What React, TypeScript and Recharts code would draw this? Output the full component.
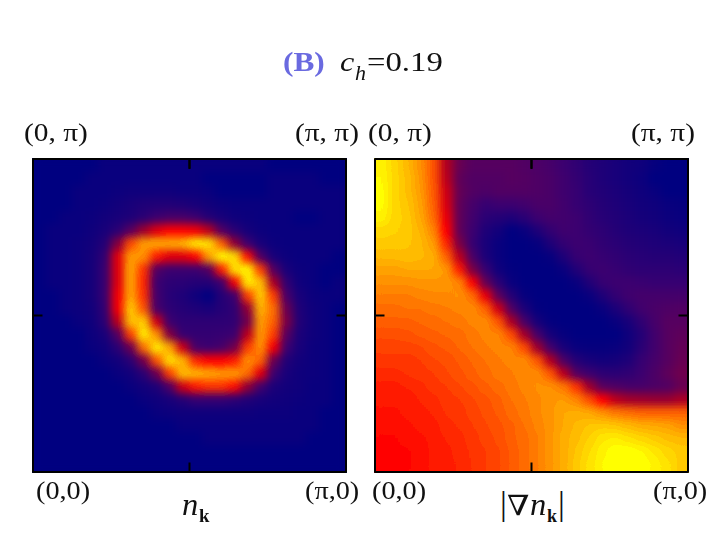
import React from "react";
import { ScatterChart, Scatter, XAxis, YAxis, ReferenceLine } from "recharts";

// Heat levels: 24 rows (top to bottom), 24 columns (left to right), 0-100.
const densityRows: number[][] = [
  [0,0,0,0,0,3,3,3,3,3,3,3,3,3,3,3,3,3,0,0,0,0,0,0],
  [0,0,0,0,3,3,3,3,3,3,3,3,3,0,0,0,0,0,3,3,3,3,0,0],
  [0,0,0,3,3,3,4,5,5,5,5,4,4,3,0,0,0,0,3,3,3,3,3,3],
  [0,0,0,3,3,4,6,8,10,11,11,10,8,6,4,3,3,3,3,3,3,3,3,3],
  [0,0,3,3,4,6,8,10,14,20,24,24,20,12,8,5,4,3,3,3,0,0,3,3],
  [0,3,3,3,5,8,14,30,44,52,56,56,54,48,28,14,7,4,3,3,3,3,3,3],
  [0,3,3,4,6,12,40,68,82,84,84,86,96,94,72,42,20,8,4,3,3,3,3,3],
  [0,3,3,4,7,16,52,82,80,60,52,52,56,82,98,94,58,26,8,4,3,3,3,0],
  [0,3,3,4,7,18,52,84,64,28,20,20,20,28,60,94,98,66,28,8,4,3,0,0],
  [0,3,3,4,7,18,52,84,62,20,15,14,12,12,20,54,96,88,46,16,5,3,0,3],
  [0,0,3,4,7,18,54,84,64,22,13,10,5,0,12,20,66,90,66,24,8,4,3,3],
  [0,0,3,4,6,16,54,90,70,24,15,12,10,8,12,16,42,86,74,34,10,5,3,0],
  [0,0,0,3,5,14,48,88,90,50,20,15,15,15,15,16,36,82,72,38,11,5,3,0],
  [0,0,0,0,4,8,28,66,96,80,40,18,17,17,18,20,48,82,66,30,9,5,3,0],
  [0,0,0,0,3,5,14,34,74,96,84,50,24,20,24,36,66,80,54,20,8,4,3,0],
  [0,0,0,0,0,3,6,14,36,70,94,86,62,56,56,60,80,72,34,11,6,4,3,0],
  [0,0,0,0,0,0,3,6,14,34,66,88,86,84,82,82,74,52,20,8,5,4,3,0],
  [0,0,0,0,0,0,0,3,6,10,26,50,60,64,64,58,42,22,9,6,5,3,3,0],
  [0,0,0,0,0,0,0,0,3,5,8,12,18,18,18,15,11,8,6,5,4,3,3,0],
  [0,0,0,0,0,0,0,0,0,3,4,5,5,5,5,5,5,4,4,4,3,3,0,0],
  [0,0,0,0,0,0,0,0,0,0,0,3,3,3,3,3,3,3,3,3,3,3,0,0],
  [0,0,0,0,0,0,0,0,0,0,0,0,0,3,3,3,3,3,3,3,3,0,0,0],
  [0,0,0,0,0,0,0,0,0,0,0,0,0,0,0,0,0,0,0,0,0,0,0,0],
  [0,0,0,0,0,0,0,0,0,0,0,0,0,0,0,0,0,0,0,0,0,0,0,0],
];

const gradientRows: number[][] = [
  [97,92,87,80,70,47,34,30,30,30,30,28,26,24,20,16,12,10,8,6,5,2,0,0],
  [98,92,88,81,70,48,32,28,28,28,30,29,27,25,21,17,13,10,8,6,4,0,0,0],
  [99,92,88,82,71,50,33,28,26,28,28,28,27,25,21,18,13,11,9,7,5,3,0,0],
  [99,92,89,83,72,51,32,24,18,20,20,22,25,25,22,18,15,12,10,8,6,5,3,2],
  [97,92,90,84,74,53,32,22,14,12,10,14,20,23,22,20,16,13,11,9,7,6,4,3],
  [92,91,90,86,78,55,32,20,10,6,0,3,10,17,21,20,17,15,12,10,9,8,6,5],
  [90,90,89,87,82,62,38,18,8,3,0,0,2,10,17,20,19,16,14,12,11,10,9,8],
  [87,87,88,87,85,72,48,25,9,3,0,0,0,2,10,18,20,18,16,14,13,12,12,11],
  [83,83,84,84,84,81,60,38,18,5,1,0,0,0,3,11,18,20,18,16,15,15,15,14],
  [80,80,80,81,81,81,78,56,33,14,3,0,0,0,0,3,11,18,20,20,19,18,18,18],
  [77,77,77,78,79,79,80,74,53,31,12,2,0,0,0,0,3,10,17,21,23,23,23,23],
  [74,74,75,75,76,77,78,79,72,50,27,9,1,0,0,0,0,3,9,16,22,25,27,28],
  [72,72,72,73,74,75,76,78,79,70,46,24,7,1,0,0,0,0,3,8,16,24,30,30],
  [69,69,70,71,72,73,74,76,78,78,68,45,23,7,2,0,0,0,0,5,12,22,30,32],
  [67,67,67,68,70,71,73,75,77,78,78,68,44,22,8,3,2,2,3,6,14,22,30,33],
  [65,65,65,66,68,69,71,73,75,77,78,79,70,47,26,12,8,6,7,10,18,24,30,34],
  [63,63,64,65,66,68,70,72,74,76,77,79,79,70,48,28,20,15,14,16,20,26,32,36],
  [61,61,62,63,65,66,68,70,72,74,76,78,80,80,76,64,44,30,27,24,24,26,28,34],
  [60,60,60,62,63,65,66,68,70,72,75,77,79,81,82,78,68,55,48,45,44,43,43,46],
  [59,59,60,61,62,64,65,67,69,71,74,76,79,81,84,85,84,80,76,74,72,72,72,72],
  [58,58,59,60,61,63,64,66,68,70,72,75,78,81,84,87,89,90,89,87,85,84,83,80],
  [57,57,58,59,60,62,63,65,67,69,72,74,77,81,85,88,91,95,96,94,92,90,88,87],
  [57,57,57,58,60,61,63,64,66,68,71,74,77,81,85,89,93,97,100,100,98,95,92,90],
  [56,56,57,58,60,61,62,64,66,68,71,74,77,81,85,90,94,98,100,100,100,97,94,90],
];

const colorStops: [number, number[]][] = [
  [0, [0, 0, 128]], [10, [30, 0, 120]], [20, [60, 0, 112]], [30, [86, 0, 96]],
  [40, [128, 0, 64]], [47, [176, 0, 32]], [55, [255, 0, 0]], [78, [255, 132, 0]], [100, [255, 255, 0]],
];

const axisDomain = [0, 24];
const axisTicks = [12];

const cornerTopLeft = ["(0, π)", "(0, π)"];
const cornerTopRight = ["(π, π)", "(π, π)"];
const cornerBottomLeft = ["(0,0)", "(0,0)"];
const cornerBottomRight = ["(π,0)", "(π,0)"];

function colorOf(v: number): string {
  for (let i = 1; i < colorStops.length; i++) {
    const [b, cb] = colorStops[i];
    const [a, ca] = colorStops[i - 1];
    if (v <= b) {
      const t = (v - a) / (b - a);
      const c = ca.map((p, k) => Math.round(p + (cb[k] - p) * t));
      return `rgb(${c[0]},${c[1]},${c[2]})`;
    }
  }
  return "rgb(255,255,0)";
}

function toCells(rows: number[][]) {
  const cells: { col: number; row: number; level: number }[] = [];
  rows.forEach((r, ri) => r.forEach((level, ci) => cells.push({ col: ci + 0.5, row: 24 - ri - 0.5, level })));
  return cells;
}

const Cell = (p: any) => (
  <rect x={p.cx - 7} y={p.cy - 7} width={14} height={14} fill={colorOf(p.payload.level)} />
);

const NoLabel = () => <g />;

function Panel({ rows, left }: { rows: number[][]; left: number }) {
  const frame = { stroke: "#000", strokeWidth: 3 };
  const tickMark = { stroke: "#000", strokeWidth: 2 };
  const common = { type: "number" as const, domain: axisDomain, ticks: axisTicks, interval: 0 as const, tick: NoLabel, tickSize: 10, mirror: true, axisLine: frame, tickLine: tickMark, allowDataOverflow: true };
  const hidden = { type: "number" as const, domain: axisDomain, hide: true };
  return (
    <>
      <div style={{ position: "absolute", left, top: 158 }}>
        <ScatterChart width={315} height={315} margin={{ top: 1.5, right: 1.5, bottom: 1.5, left: 1.5 }}>
          <XAxis dataKey="col" {...hidden} />
          <YAxis dataKey="row" {...hidden} />
          <Scatter data={toCells(rows)} shape={Cell} isAnimationActive={false} />
        </ScatterChart>
      </div>
      <div style={{ position: "absolute", left, top: 158 }}>
        <ScatterChart width={315} height={315} margin={{ top: 0.5, right: 0.5, bottom: 0.5, left: 0.5 }}>
          <XAxis xAxisId="b" dataKey="col" orientation="bottom" height={1} {...common} />
          <XAxis xAxisId="t" dataKey="col" orientation="top" height={1} {...common} />
          <YAxis yAxisId="l" dataKey="row" orientation="left" width={1} {...common} />
          <YAxis yAxisId="r" dataKey="row" orientation="right" width={1} {...common} />
          <Scatter data={[]} xAxisId="b" yAxisId="l" isAnimationActive={false} />
          <Scatter data={[]} xAxisId="t" yAxisId="r" isAnimationActive={false} />
          <ReferenceLine xAxisId="b" yAxisId="l" segment={[{ x: 12, y: 24 }, { x: 12, y: 23.2 }]} stroke="#000" strokeWidth={2} />
        </ScatterChart>
      </div>
    </>
  );
}

const serif = "'Liberation Serif', serif";

function Label({ x, y, size = 25, sx = 1.13, children, style }: any) {
  return (
    <span style={{ position: "absolute", left: x, top: y - size, lineHeight: `${size * 1.2}px`, fontFamily: serif, fontSize: size, color: "#111", whiteSpace: "pre", transform: `scaleX(${sx})`, transformOrigin: "left", ...style }}>
      {children}
    </span>
  );
}

const levels = (n: number) => Array.from({ length: n }, (_, i) => (i / (n - 1)).toFixed(3)).join(" ");

export default function App() {
  return (
    <div style={{ position: "absolute", left: 0, top: 0, width: 720, height: 540, background: "#fff", overflow: "hidden" }}>
      <style>{`.recharts-scatter{filter:url(#soft)}`}</style>
      <svg width={0} height={0} style={{ position: "absolute" }}>
        <filter id="soft" filterUnits="userSpaceOnUse" x={-60} y={-60} width={500} height={500} colorInterpolationFilters="sRGB">
          <feGaussianBlur stdDeviation={4} />
          <feComponentTransfer>
            <feFuncA type="linear" slope={20} />
            <feFuncG type="discrete" tableValues={levels(20)} />
          </feComponentTransfer>
        </filter>
      </svg>
      <Panel rows={densityRows} left={32} />
      <Panel rows={gradientRows} left={374} />

      <Label x={283} y={73} size={28} sx={1.12} style={{ fontWeight: "bold", color: "#6a6ae0" }}>(B)</Label>
      <Label x={340} y={73} size={28} sx={1.15} style={{ fontStyle: "italic" }}>c</Label>
      <Label x={355} y={81} size={20} sx={1.1} style={{ fontStyle: "italic" }}>h</Label>
      <Label x={367} y={73} size={28} sx={1.17}>=0.19</Label>

      <Label x={24} y={143} size={26}>{cornerTopLeft[0]}</Label>
      <Label x={295} y={143} size={26}>{cornerTopRight[0]}</Label>
      <Label x={368} y={143} size={26}>{cornerTopLeft[1]}</Label>
      <Label x={631} y={143} size={26}>{cornerTopRight[1]}</Label>

      <Label x={36} y={501}>{cornerBottomLeft[0]}</Label>
      <Label x={305} y={501}>{cornerBottomRight[0]}</Label>
      <Label x={372} y={501}>{cornerBottomLeft[1]}</Label>
      <Label x={653} y={501}>{cornerBottomRight[1]}</Label>

      <Label x={182} y={517} size={31} sx={1.05} style={{ fontStyle: "italic" }}>n</Label>
      <Label x={199} y={524} size={18} sx={1.05} style={{ fontWeight: "bold" }}>k</Label>

      <Label x={500} y={518} size={34} sx={1}>|</Label>
      <Label x={507} y={517} size={28} sx={1.15} style={{ fontFamily: "'DejaVu Serif', serif" }}>∇</Label>
      <Label x={530} y={517} size={31} sx={1.05} style={{ fontStyle: "italic" }}>n</Label>
      <Label x={547} y={524} size={18} sx={1.0} style={{ fontWeight: "bold" }}>k</Label>
      <Label x={558} y={518} size={34} sx={1}>|</Label>
    </div>
  );
}
